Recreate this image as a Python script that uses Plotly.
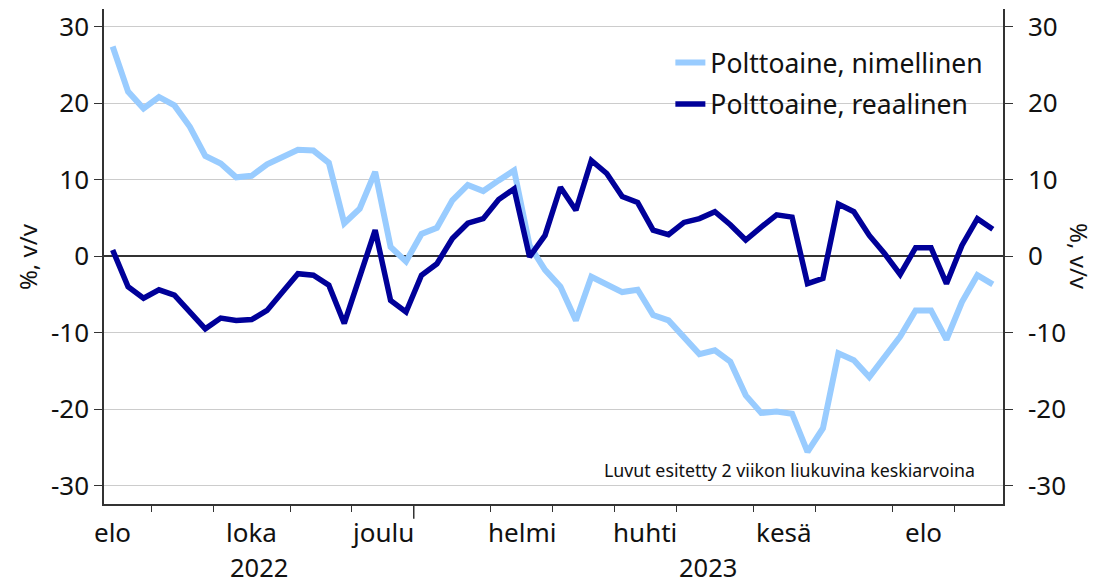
import plotly.graph_objects as go
import pandas as pd

# ---- data ----
weeks = pd.date_range("2022-08-15", periods=58, freq="7D")
nominal = [27.4, 21.5, 19.3, 20.8, 19.7, 16.9, 13.1, 12.1, 10.3, 10.5,
           12.0, 13.0, 13.9, 13.8, 12.2, 4.3, 6.2, 11.0, 1.2, -0.7,
           2.9, 3.7, 7.3, 9.3, 8.5, 9.9, 11.2, 1.4, -1.8, -4.0,
           -8.4, -2.7, -3.6, -4.7, -4.4, -7.7, -8.4, -10.5, -12.8, -12.3,
           -13.8, -18.2, -20.5, -20.3, -20.6, -25.6, -22.5, -12.7, -13.6, -15.8,
           -13.2, -10.5, -7.1, -7.1, -10.9, -6.0, -2.5, -3.7]
real = [0.8, -4.0, -5.5, -4.4, -5.1, -7.3, -9.5, -8.1, -8.4, -8.3,
        -7.1, -4.7, -2.3, -2.5, -3.8, -8.8, -2.9, 3.4, -5.8, -7.3,
        -2.5, -1.0, 2.3, 4.3, 4.9, 7.4, 8.8, -0.1, 2.7, 9.0,
        6.0, 12.5, 10.8, 7.8, 7.0, 3.4, 2.8, 4.4, 4.9, 5.8,
        4.1, 2.1, 3.8, 5.4, 5.1, -3.6, -2.9, 6.8, 5.8, 2.7,
        0.3, -2.4, 1.1, 1.1, -3.6, 1.4, 4.9, 3.5]
series_names = ["Polttoaine, nimellinen", "Polttoaine, reaalinen"]
month_labels = {8: "elo", 10: "loka", 12: "joulu", 2: "helmi", 4: "huhti", 6: "kesä"}
y_ticks = [-30, -20, -10, 0, 10, 20, 30]
y_tick_text = ["-30", "-20", "-10", "0", "10", "20", "30"]
y_title = "%, v/v"
note = "Luvut esitetty 2 viikon liukuvina keskiarvoina"

LIGHT = "#99ccff"
DARK = "#000099"
AX = "#333333"
FONT = "Noto Sans"

x = list(range(len(weeks)))

# month boundaries (between weeks where month changes) and full-month spans
start = weeks[0]
months = pd.period_range(weeks[0].to_period("M"), weeks[-1].to_period("M"), freq="M")
def week_pos(ts):
    d = (ts - start).days
    return -(-d // 7)
spans = []
for m in months:
    a = week_pos(m.start_time.normalize()) - 0.5
    b = week_pos((m + 1).start_time.normalize()) - 0.5
    spans.append((m, a, b))
boundaries = [b for (m, a, b) in spans[:-1]]
year_boundary = [b for (m, a, b) in spans if m.month == 12][0]

x_range = [-0.56, 57.66]

fig = go.Figure()
fig.add_trace(go.Scatter(x=x, y=nominal, mode="lines", name=series_names[0],
                         legendgroup="a",
                         line=dict(color=LIGHT, width=6), yaxis="y"))
fig.add_trace(go.Scatter(x=x, y=real, mode="lines", name=series_names[1],
                         legendgroup="b",
                         line=dict(color=DARK, width=5.5), yaxis="y2"))

annotations = []
for (m, a, b) in spans:
    if m.month in month_labels:
        annotations.append(dict(x=(a + b) / 2, y=-0.0566, xref="x", yref="paper",
                                text=month_labels[m.month], showarrow=False, borderpad=0,
                                font=dict(size=26, color="#111"), yanchor="middle"))
years = sorted(set(w.year for w in weeks))
for yr in years:
    lo = x_range[0] if yr == years[0] else year_boundary
    hi = year_boundary if yr == years[0] else x_range[1]
    annotations.append(dict(x=(lo + hi) / 2, y=-0.127, xref="x", yref="paper",
                            text=str(yr), showarrow=False, borderpad=0,
                            font=dict(size=25.5, color="#111"), yanchor="middle"))
annotations.append(dict(x=-0.085, y=0.5, xref="paper", yref="paper", text=y_title,
                        textangle=-90, showarrow=False, font=dict(size=24, color="#111"),
                        xanchor="center", yanchor="middle"))
annotations.append(dict(x=1.085, y=0.5, xref="paper", yref="paper", text=y_title,
                        textangle=90, showarrow=False, font=dict(size=24, color="#111"),
                        xanchor="center", yanchor="middle"))
annotations.append(dict(x=0.971, y=0.069, xref="paper", yref="paper", text=note,
                        showarrow=False, font=dict(size=17.8, color="#111"),
                        xanchor="right", yanchor="middle"))

yax_common = dict(range=[-32.4, 32.3], tickvals=y_ticks, ticktext=y_tick_text,
                  ticks="outside", ticklen=8,
                  tickcolor=AX, showline=True, linecolor=AX, linewidth=1.5,
                  tickfont=dict(size=26, color="#111"), fixedrange=True, automargin=False)

fig.update_layout(
    width=1095, height=585,
    margin=dict(l=104, r=92, t=9, b=81, autoexpand=False),
    paper_bgcolor="white", plot_bgcolor="white",
    font=dict(family=FONT, color="#111"),
    xaxis=dict(range=x_range, tickvals=boundaries, ticktext=[""] * len(boundaries),
               ticks="outside", ticklen=6, tickcolor=AX, showline=True, linecolor=AX,
               linewidth=1.5, showgrid=False, zeroline=False, automargin=False),
    yaxis=dict(**yax_common, showgrid=True, gridcolor="#cccccc", gridwidth=1,
               zeroline=True, zerolinecolor=AX, zerolinewidth=1.5),
    yaxis2=dict(**yax_common, overlaying="y", side="right", showgrid=False,
                zeroline=False, ticklabelstandoff=10),
    legend=dict(x=0.63, y=0.94, xanchor="left", yanchor="top", traceorder="grouped",
                tracegroupgap=4,
                font=dict(size=26.5, color="#111"), bgcolor="rgba(0,0,0,0)"),
    annotations=annotations,
    shapes=[dict(type="line", xref="x", yref="paper", x0=year_boundary, x1=year_boundary,
                 y0=0, y1=-0.03, line=dict(color=AX, width=1.5))],
)

fig.write_html("out.html", config={"displayModeBar": False},
               post_script="document.body.style.margin='0';document.body.style.padding='0';")
